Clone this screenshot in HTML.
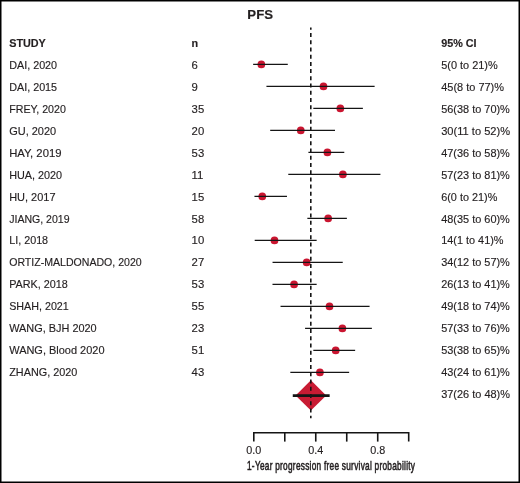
<!DOCTYPE html>
<html><head><meta charset="utf-8"><style>
html,body{margin:0;padding:0;background:#fff;}
body{width:520px;height:483px;overflow:hidden;position:relative;}
svg{position:absolute;left:0;top:0;display:block;will-change:transform;}
text{font-family:"Liberation Sans",sans-serif;fill:#231f20;stroke:#231f20;stroke-width:0.15px;}
</style></head><body>
<svg width="520" height="483" viewBox="0 0 520 483">
<rect x="0" y="0" width="520" height="483" fill="#fff"/>

<text id="title" x="247.35" y="18.80" font-size="13.2" font-weight="bold">PFS</text>
<text id="h_study" x="9.20" y="47.00" font-size="10.8" font-weight="bold">STUDY</text>
<text id="h_n" x="191.60" y="47.00" font-size="10.8" font-weight="bold">n</text>
<text id="h_ci" x="441.20" y="47.00" font-size="10.8" font-weight="bold">95% CI</text>
<text id="l0" x="9.20" y="69.00" font-size="10.8" textLength="47.93" lengthAdjust="spacingAndGlyphs">DAI, 2020</text>
<text id="n0" x="191.60" y="69.00" font-size="10.8" textLength="6.30" lengthAdjust="spacingAndGlyphs">6</text>
<text id="c0" x="441.20" y="69.00" font-size="10.8" textLength="56.54" lengthAdjust="spacingAndGlyphs">5(0 to 21)%</text>
<text id="l1" x="9.20" y="90.93" font-size="10.8" textLength="47.93" lengthAdjust="spacingAndGlyphs">DAI, 2015</text>
<text id="n1" x="191.60" y="90.93" font-size="10.8" textLength="6.30" lengthAdjust="spacingAndGlyphs">9</text>
<text id="c1" x="441.20" y="90.93" font-size="10.8" textLength="62.83" lengthAdjust="spacingAndGlyphs">45(8 to 77)%</text>
<text id="l2" x="9.20" y="112.86" font-size="10.8" textLength="56.63" lengthAdjust="spacingAndGlyphs">FREY, 2020</text>
<text id="n2" x="191.60" y="112.86" font-size="10.8" textLength="12.60" lengthAdjust="spacingAndGlyphs">35</text>
<text id="c2" x="441.20" y="112.86" font-size="10.8" textLength="68.65" lengthAdjust="spacingAndGlyphs">56(38 to 70)%</text>
<text id="l3" x="9.20" y="134.79" font-size="10.8" textLength="46.95" lengthAdjust="spacingAndGlyphs">GU, 2020</text>
<text id="n3" x="191.60" y="134.79" font-size="10.8" textLength="12.60" lengthAdjust="spacingAndGlyphs">20</text>
<text id="c3" x="441.20" y="134.79" font-size="10.8" textLength="68.87" lengthAdjust="spacingAndGlyphs">30(11 to 52)%</text>
<text id="l4" x="9.20" y="156.72" font-size="10.8" textLength="52.28" lengthAdjust="spacingAndGlyphs">HAY, 2019</text>
<text id="n4" x="191.60" y="156.72" font-size="10.8" textLength="12.60" lengthAdjust="spacingAndGlyphs">53</text>
<text id="c4" x="441.20" y="156.72" font-size="10.8" textLength="68.65" lengthAdjust="spacingAndGlyphs">47(36 to 58)%</text>
<text id="l5" x="9.20" y="178.65" font-size="10.8" textLength="52.93" lengthAdjust="spacingAndGlyphs">HUA, 2020</text>
<text id="n5" x="191.60" y="178.65" font-size="10.8" textLength="11.80" lengthAdjust="spacingAndGlyphs">11</text>
<text id="c5" x="441.20" y="178.65" font-size="10.8" textLength="68.65" lengthAdjust="spacingAndGlyphs">57(23 to 81)%</text>
<text id="l6" x="9.20" y="200.58" font-size="10.8" textLength="46.35" lengthAdjust="spacingAndGlyphs">HU, 2017</text>
<text id="n6" x="191.60" y="200.58" font-size="10.8" textLength="12.60" lengthAdjust="spacingAndGlyphs">15</text>
<text id="c6" x="441.20" y="200.58" font-size="10.8" textLength="56.10" lengthAdjust="spacingAndGlyphs">6(0 to 21)%</text>
<text id="l7" x="9.20" y="222.51" font-size="10.8" textLength="60.40" lengthAdjust="spacingAndGlyphs">JIANG, 2019</text>
<text id="n7" x="191.60" y="222.51" font-size="10.8" textLength="12.60" lengthAdjust="spacingAndGlyphs">58</text>
<text id="c7" x="441.20" y="222.51" font-size="10.8" textLength="68.65" lengthAdjust="spacingAndGlyphs">48(35 to 60)%</text>
<text id="l8" x="9.20" y="244.44" font-size="10.8" textLength="38.93" lengthAdjust="spacingAndGlyphs">LI, 2018</text>
<text id="n8" x="191.60" y="244.44" font-size="10.8" textLength="12.60" lengthAdjust="spacingAndGlyphs">10</text>
<text id="c8" x="441.20" y="244.44" font-size="10.8" textLength="62.30" lengthAdjust="spacingAndGlyphs">14(1 to 41)%</text>
<text id="l9" x="9.20" y="266.37" font-size="10.8" textLength="132.49" lengthAdjust="spacingAndGlyphs">ORTIZ-MALDONADO, 2020</text>
<text id="n9" x="191.60" y="266.37" font-size="10.8" textLength="12.60" lengthAdjust="spacingAndGlyphs">27</text>
<text id="c9" x="441.20" y="266.37" font-size="10.8" textLength="68.65" lengthAdjust="spacingAndGlyphs">34(12 to 57)%</text>
<text id="l10" x="9.20" y="288.30" font-size="10.8" textLength="58.63" lengthAdjust="spacingAndGlyphs">PARK, 2018</text>
<text id="n10" x="191.60" y="288.30" font-size="10.8" textLength="12.60" lengthAdjust="spacingAndGlyphs">53</text>
<text id="c10" x="441.20" y="288.30" font-size="10.8" textLength="68.65" lengthAdjust="spacingAndGlyphs">26(13 to 41)%</text>
<text id="l11" x="9.20" y="310.23" font-size="10.8" textLength="59.60" lengthAdjust="spacingAndGlyphs">SHAH, 2021</text>
<text id="n11" x="191.60" y="310.23" font-size="10.8" textLength="12.60" lengthAdjust="spacingAndGlyphs">55</text>
<text id="c11" x="441.20" y="310.23" font-size="10.8" textLength="68.65" lengthAdjust="spacingAndGlyphs">49(18 to 74)%</text>
<text id="l12" x="9.20" y="332.16" font-size="10.8" textLength="87.51" lengthAdjust="spacingAndGlyphs">WANG, BJH 2020</text>
<text id="n12" x="191.60" y="332.16" font-size="10.8" textLength="12.60" lengthAdjust="spacingAndGlyphs">23</text>
<text id="c12" x="441.20" y="332.16" font-size="10.8" textLength="68.65" lengthAdjust="spacingAndGlyphs">57(33 to 76)%</text>
<text id="l13" x="9.20" y="354.09" font-size="10.8" textLength="95.33" lengthAdjust="spacingAndGlyphs">WANG, Blood 2020</text>
<text id="n13" x="191.60" y="354.09" font-size="10.8" textLength="12.60" lengthAdjust="spacingAndGlyphs">51</text>
<text id="c13" x="441.20" y="354.09" font-size="10.8" textLength="68.65" lengthAdjust="spacingAndGlyphs">53(38 to 65)%</text>
<text id="l14" x="9.20" y="376.02" font-size="10.8" textLength="68.11" lengthAdjust="spacingAndGlyphs">ZHANG, 2020</text>
<text id="n14" x="191.60" y="376.02" font-size="10.8" textLength="12.60" lengthAdjust="spacingAndGlyphs">43</text>
<text id="c14" x="441.20" y="376.02" font-size="10.8" textLength="68.65" lengthAdjust="spacingAndGlyphs">43(24 to 61)%</text>
<text id="c15" x="441.20" y="397.95" font-size="10.8" textLength="68.75" lengthAdjust="spacingAndGlyphs">37(26 to 48)%</text>
<circle cx="261.35" cy="64.40" r="3.85" fill="#ca1530"/>
<circle cx="323.50" cy="86.40" r="3.85" fill="#ca1530"/>
<circle cx="340.34" cy="108.40" r="3.85" fill="#ca1530"/>
<circle cx="300.77" cy="130.40" r="3.85" fill="#ca1530"/>
<circle cx="327.40" cy="152.40" r="3.85" fill="#ca1530"/>
<circle cx="342.89" cy="174.40" r="3.85" fill="#ca1530"/>
<circle cx="262.29" cy="196.40" r="3.85" fill="#ca1530"/>
<circle cx="328.15" cy="218.40" r="3.85" fill="#ca1530"/>
<circle cx="274.49" cy="240.40" r="3.85" fill="#ca1530"/>
<circle cx="306.67" cy="262.40" r="3.85" fill="#ca1530"/>
<circle cx="294.07" cy="284.40" r="3.85" fill="#ca1530"/>
<circle cx="329.50" cy="306.40" r="3.85" fill="#ca1530"/>
<circle cx="342.39" cy="328.40" r="3.85" fill="#ca1530"/>
<circle cx="335.70" cy="350.40" r="3.85" fill="#ca1530"/>
<circle cx="319.91" cy="372.40" r="3.85" fill="#ca1530"/>
<line x1="253.80" y1="64.40" x2="287.13" y2="64.40" stroke="#151515" stroke-width="1.3" stroke-linecap="square"/>
<line x1="267.09" y1="86.40" x2="373.97" y2="86.40" stroke="#151515" stroke-width="1.3" stroke-linecap="square"/>
<line x1="313.96" y1="108.40" x2="362.23" y2="108.40" stroke="#151515" stroke-width="1.3" stroke-linecap="square"/>
<line x1="270.84" y1="130.40" x2="334.35" y2="130.40" stroke="#151515" stroke-width="1.3" stroke-linecap="square"/>
<line x1="309.06" y1="152.40" x2="343.64" y2="152.40" stroke="#151515" stroke-width="1.3" stroke-linecap="square"/>
<line x1="288.93" y1="174.40" x2="379.77" y2="174.40" stroke="#151515" stroke-width="1.3" stroke-linecap="square"/>
<line x1="255.10" y1="196.40" x2="286.33" y2="196.40" stroke="#151515" stroke-width="1.3" stroke-linecap="square"/>
<line x1="308.01" y1="218.40" x2="346.24" y2="218.40" stroke="#151515" stroke-width="1.3" stroke-linecap="square"/>
<line x1="255.35" y1="240.40" x2="316.01" y2="240.40" stroke="#151515" stroke-width="1.3" stroke-linecap="square"/>
<line x1="273.19" y1="262.40" x2="342.09" y2="262.40" stroke="#151515" stroke-width="1.3" stroke-linecap="square"/>
<line x1="273.14" y1="284.40" x2="316.01" y2="284.40" stroke="#151515" stroke-width="1.3" stroke-linecap="square"/>
<line x1="281.18" y1="306.40" x2="368.93" y2="306.40" stroke="#151515" stroke-width="1.3" stroke-linecap="square"/>
<line x1="305.72" y1="328.40" x2="371.22" y2="328.40" stroke="#151515" stroke-width="1.3" stroke-linecap="square"/>
<line x1="313.96" y1="350.40" x2="354.49" y2="350.40" stroke="#151515" stroke-width="1.3" stroke-linecap="square"/>
<line x1="290.98" y1="372.40" x2="348.49" y2="372.40" stroke="#151515" stroke-width="1.3" stroke-linecap="square"/>
<polygon points="310.90,380.20 326.20,395.40 310.90,410.60 295.60,395.40" fill="#c81b33"/>
<line x1="292.77" y1="395.55" x2="329.65" y2="395.55" stroke="#151515" stroke-width="2.7"/>
<line x1="310.8" y1="27.5" x2="310.8" y2="418.3" stroke="#151515" stroke-width="1.6" stroke-dasharray="4 3.22" stroke-dashoffset="1.72"/>
<path d="M253.80,441.6 V432.8 H408.70 V441.6" fill="none" stroke="#151515" stroke-width="1.6"/>
<line x1="284.78" y1="432.8" x2="284.78" y2="441.6" stroke="#151515" stroke-width="1.6"/>
<line x1="315.76" y1="432.8" x2="315.76" y2="441.6" stroke="#151515" stroke-width="1.6"/>
<line x1="346.74" y1="432.8" x2="346.74" y2="441.6" stroke="#151515" stroke-width="1.6"/>
<line x1="377.72" y1="432.8" x2="377.72" y2="441.6" stroke="#151515" stroke-width="1.6"/>
<text id="ax0" x="253.80" y="453.60" font-size="10.8" text-anchor="middle">0.0</text>
<text id="ax40" x="315.76" y="453.60" font-size="10.8" text-anchor="middle">0.4</text>
<text id="ax80" x="377.72" y="453.60" font-size="10.8" text-anchor="middle">0.8</text>
<text id="xlabel" transform="translate(247.0,0) scale(0.68,1)" x="0" y="470.3" font-size="12.2" textLength="247.06" lengthAdjust="spacing" font-weight="normal" style="stroke-width:0.55px;stroke:#231f20">1-Year progression free survival probability</text>
<rect x="0.75" y="0.75" width="518.5" height="481.5" fill="none" stroke="#000" stroke-width="1.5"/>
</svg>
</body></html>
